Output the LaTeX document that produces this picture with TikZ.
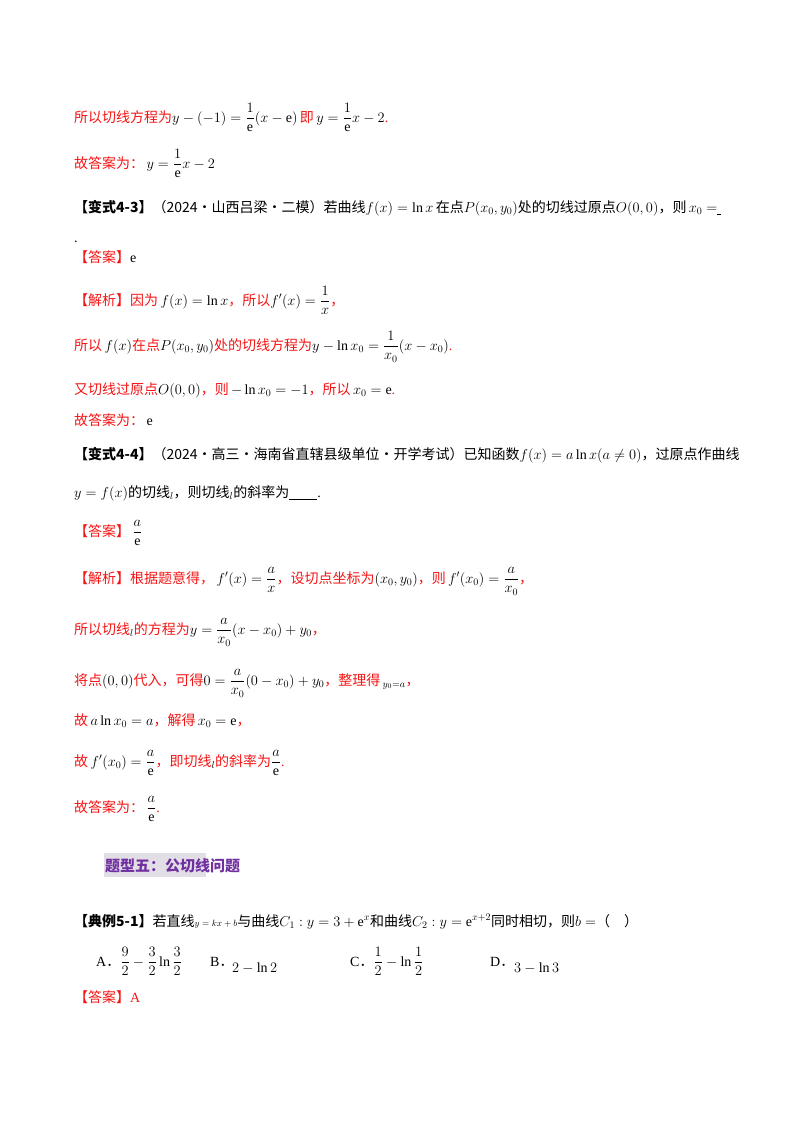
\documentclass[tikz,border=0pt]{standalone}
\usepackage{amsmath}
\usepackage{fontspec}
\setmainfont{Liberation Serif}
\newfontfamily\cjk{Noto Sans CJK SC}
\definecolor{rd}{RGB}{245,20,20}
\definecolor{pur}{RGB}{112,48,160}
\definecolor{hbg}{RGB}{225,222,230}
\newcommand{\z}[1]{{\cjk #1}}
\newcommand{\zb}[1]{{\cjk\bfseries #1}}
\newcommand{\bk}[1]{\textcolor{black}{#1}}
\begin{document}
\begin{tikzpicture}[x=1pt,y=-1pt,every node/.style={anchor=base west,inner sep=0pt,font=\fontsize{14}{16}\selectfont},
red/.style={text=rd}]
\useasboundingbox (0,0) rectangle (800,1132);
\node[red] (l1) at (74,122) {\z{所以切线方程为}\bk{$y-(-1)=\dfrac{1}{\mathrm e}(x-\mathrm e)$}\,\z{即}\,\bk{$y=\dfrac{1}{\mathrm e}x-2$}.};
\node[red] (l2) at (74,168) {\z{故答案为：}\,\bk{$y=\dfrac{1}{\mathrm e}x-2$}};
\node (l3) at (74,212) {\zb{【变式4-3】}\z{（2024·山西吕梁·二模）若曲线}$f(x)=\ln x$\,\z{在点}$P(x_0,y_0)$\z{处的切线过原点}$O(0,0)$\z{，则}\,$x_0=$\underline{\ }};
\node (l3b) at (74,242) {.};
\node[red] (l4) at (74,262) {\z{【答案】}\bk{e}};
\node[red] (l5) at (74,305) {\z{【解析】因为}\,\bk{$f(x)=\ln x$}\z{，所以}\bk{$f'(x)=\dfrac{1}{x}$}\z{，}};
\node[red] (l6) at (74,350) {\z{所以}\,\bk{$f(x)$}\z{在点}\bk{$P(x_0,y_0)$}\z{处的切线方程为}\bk{$y-\ln x_0=\dfrac{1}{x_0}(x-x_0)$}.};
\node[red] (l7) at (74,394) {\z{又切线过原点}\bk{$O(0,0)$}\z{，则}\,\bk{$-\ln x_0=-1$}\z{，所以}\,\bk{$x_0=\mathrm e$}.};
\node[red] (l8) at (74,425) {\z{故答案为：}\,\bk{e}};
\node (l9) at (74,459) {\zb{【变式4-4】}\z{（2024·高三·海南省直辖县级单位·开学考试）已知函数}$f(x)=a\ln x(a\neq0)$\z{，过原点作曲线}};
\node (l10) at (74,497) {$y=f(x)$\z{的切线}$_{l}$\z{，则切线}$_{l}$\z{的斜率为}\underline{\hspace{2em}}.};
\node[red] (l11) at (74,536) {\z{【答案】}\,\bk{$\dfrac{a}{\mathrm e}$}};
\node[red] (l12) at (74,583) {\z{【解析】根据题意得，}\,\bk{$f'(x)=\dfrac{a}{x}$}\z{，设切点坐标为}\bk{$(x_0,y_0)$}\z{，则}\,\bk{$f'(x_0)=\dfrac{a}{x_0}$}\z{，}};
\node[red] (l13) at (74,634) {\z{所以切线}$_{\bk{l}}$\z{的方程为}\bk{$y=\dfrac{a}{x_0}(x-x_0)+y_0$}\z{，}};
\node[red] (l14) at (74,685) {\z{将点}\bk{$(0,0)$}\z{代入，可得}\bk{$0=\dfrac{a}{x_0}(0-x_0)+y_0$}\z{，整理得}\,\bk{$_{y_0=a}$}\z{，}};
\node[red] (l15) at (74,725) {\z{故}\,\bk{$a\ln x_0=a$}\z{，解得}\,\bk{$x_0=\mathrm e$}\z{，}};
\node[red] (l16) at (74,766) {\z{故}\,\bk{$f'(x_0)=\dfrac{a}{\mathrm e}$}\z{，即切线}$_{\bk{l}}$\z{的斜率为}\bk{$\dfrac{a}{\mathrm e}$}.};
\node[red] (l17) at (74,812) {\z{故答案为：}\,\bk{$\dfrac{a}{\mathrm e}$}.};
\fill[hbg] (104,853) rectangle (206,877);
\node[text=pur,font=\fontsize{15}{17}\selectfont] (h) at (105,871) {\zb{题型五：公切线问题}};
\node (l18) at (74,926) {\zb{【典例5-1】}\z{若直线}{\small$y=kx+b$}\z{与曲线}$C_1:y=3+\mathrm e^x$\z{和曲线}$C_2:y=\mathrm e^{x+2}$\z{同时相切，则}$b=$\z{（\quad ）}};
\node (oA) at (96,966) {A\z{．}$\dfrac{9}{2}-\dfrac{3}{2}\ln\dfrac{3}{2}$};
\node (oB) at (210,966) {B\z{．}};
\node (oB2) at (232,972) {$2-\ln2$};
\node (oC) at (350,966) {C\z{．}$\dfrac{1}{2}-\ln\dfrac{1}{2}$};
\node (oD) at (490,966) {D\z{．}};
\node (oD2) at (514,972) {$3-\ln3$};
\node[red] (l19) at (74,1002) {\z{【答案】}A};
\end{tikzpicture}
\end{document}
